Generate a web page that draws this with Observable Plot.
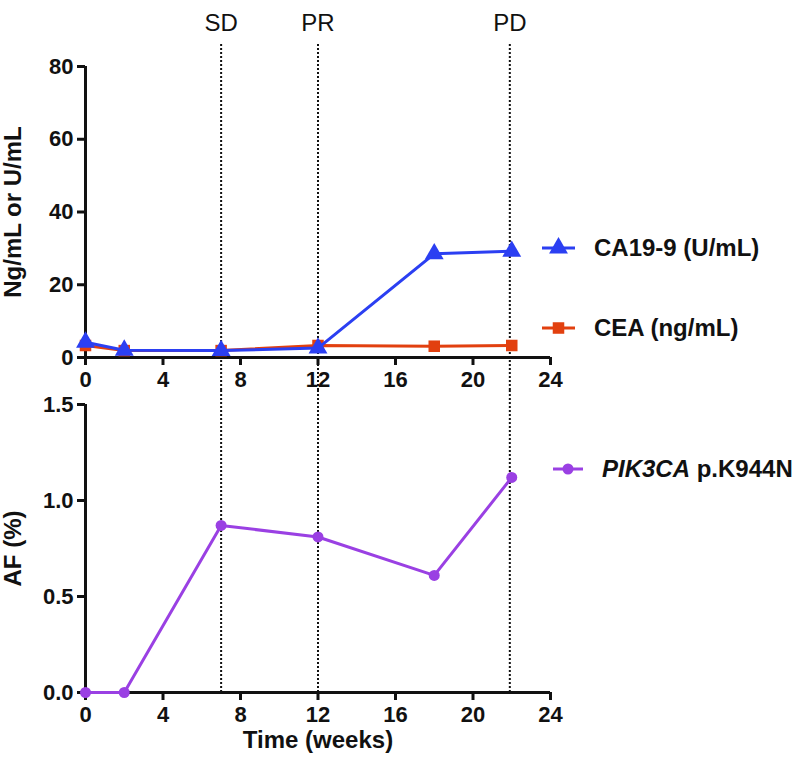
<!DOCTYPE html>
<html><head><meta charset="utf-8">
<script src="https://cdn.jsdelivr.net/npm/d3@7"></script>
<script src="https://cdn.jsdelivr.net/npm/@observablehq/plot@0.6"></script>
<style>
html,body{margin:0;padding:0;background:#fff;}
#wrap{position:relative;width:800px;height:760px;background:#fff;font-family:"Liberation Sans",Arial,sans-serif;overflow:hidden;}
#wrap > svg{position:absolute;left:0;}
.leg{position:absolute;display:flex;align-items:center;font-weight:bold;font-size:24px;color:#111;white-space:nowrap;height:30px;}
.leg svg{display:block;margin-right:19px;}
</style></head><body><div id="wrap"></div>
<script>
// ---- data ----
const weeks = [0, 2, 7, 12, 18, 22];
const ca199 = [4.2, 2.0, 1.9, 2.6, 28.5, 29.2];
const cea = [3.3, 1.9, 1.9, 3.3, 3.1, 3.3];
const pik3ca = [0, 0, 0.87, 0.81, 0.61, 1.12];
const xTicks = [0, 4, 8, 12, 16, 20, 24];
const topYTicks = [0, 20, 40, 60, 80];
const bottomYTicks = [0, 0.5, 1.0, 1.5];
const eventLabels = ["SD", "PR", "PD"];
const eventWeeks = [7, 12, 21.9];
const seriesNames = ["CA19-9 (U/mL)", "CEA (ng/mL)", "PIK3CA p.K944N"];
const seriesColors = ["#2b3ff2", "#e2400f", "#9a40e3"];

const caData = weeks.map((w, i) => ({week: w, value: ca199[i]}));
const ceaData = weeks.map((w, i) => ({week: w, value: cea[i]}));
const pikData = weeks.map((w, i) => ({week: w, value: pik3ca[i]}));
const events = eventWeeks.map((w, i) => ({week: w, label: eventLabels[i]}));

const FONT = "Liberation Sans, Arial, sans-serif";
const wrap = document.getElementById("wrap");

const common = {
  width: 800,
  marginLeft: 85,
  marginRight: 250,
  style: {background: "transparent", fontFamily: FONT, color: "#111"},
  x: {domain: [0, 24]}
};

const axStyle = {tickSize: 8, strokeWidth: 3, fontSize: 22, fontWeight: "bold", label: null, fill: "#111", stroke: "#111"};
const dotted = {stroke: "#111", strokeWidth: 2, strokeDasharray: "2,2"};
const titleStyle = {text: d => d, fontSize: 24, fontWeight: "bold", fill: "#111"};

// ---- top panel ----
const topPlot = Plot.plot({
  ...common,
  height: 395,
  marginTop: 66,
  marginBottom: 38,
  y: {domain: [0, 80]},
  marks: [
    Plot.ruleX(events, {x: "week", ...dotted, insetTop: -22, insetBottom: -33}),
    Plot.text(events, {x: "week", text: "label", frameAnchor: "top", dy: -53, fontSize: 24, fill: "#111"}),
    Plot.axisX({ticks: xTicks, ...axStyle, tickPadding: 6}),
    Plot.axisY({ticks: topYTicks, ...axStyle, tickPadding: 4}),
    Plot.ruleY([0], {stroke: "#111", strokeWidth: 3}),
    Plot.ruleX([0], {stroke: "#111", strokeWidth: 3}),
    Plot.text(["Ng/mL or U/mL"], {...titleStyle, frameAnchor: "left", textAnchor: "middle", rotate: -90, dx: -72}),
    Plot.line(ceaData, {x: "week", y: "value", stroke: seriesColors[1], strokeWidth: 3}),
    Plot.dot(ceaData, {x: "week", y: "value", symbol: "square", r: 6.5, fill: seriesColors[1]}),
    Plot.line(caData, {x: "week", y: "value", stroke: seriesColors[0], strokeWidth: 3}),
    Plot.dot(caData, {x: "week", y: "value", symbol: "triangle", r: 7, fill: seriesColors[0]})
  ]
});
topPlot.style.top = "0px";
wrap.appendChild(topPlot);

// ---- bottom panel ----
const bottomPlot = Plot.plot({
  ...common,
  height: 375,
  marginTop: 19,
  marginBottom: 68,
  y: {domain: [0, 1.5]},
  marks: [
    Plot.ruleX(events, {x: "week", ...dotted, insetTop: -14}),
    Plot.axisX({ticks: xTicks, ...axStyle, tickPadding: 6}),
    Plot.axisY({ticks: bottomYTicks, ...axStyle, tickPadding: 4, tickFormat: d3.format(".1f")}),
    Plot.ruleY([0], {stroke: "#111", strokeWidth: 3}),
    Plot.ruleX([0], {stroke: "#111", strokeWidth: 3}),
    Plot.text(["AF (%)"], {...titleStyle, frameAnchor: "left", textAnchor: "middle", rotate: -90, dx: -72}),
    Plot.text(["Time (weeks)"], {...titleStyle, frameAnchor: "bottom", dy: 55}),
    Plot.line(pikData, {x: "week", y: "value", stroke: seriesColors[2], strokeWidth: 3}),
    Plot.dot(pikData, {x: "week", y: "value", symbol: "circle", r: 5.5, fill: seriesColors[2]})
  ]
});
bottomPlot.style.top = "385px";
wrap.appendChild(bottomPlot);

// ---- legends ----
function legend(name, color, symbolType, r, left, cy, lineW, italicPart) {
  const div = document.createElement("div");
  div.className = "leg";
  div.style.left = left + "px";
  div.style.top = (cy - 15) + "px";
  const svg = d3.create("svg").attr("width", lineW).attr("height", 30);
  svg.append("line").attr("x1", 0).attr("x2", lineW).attr("y1", 15).attr("y2", 15)
    .attr("stroke", color).attr("stroke-width", 3);
  svg.append("path").attr("transform", `translate(${lineW / 2},15)`)
    .attr("d", d3.symbol(symbolType, r * r * Math.PI)()).attr("fill", color);
  div.appendChild(svg.node());
  const span = document.createElement("span");
  if (italicPart) {
    const i = document.createElement("i");
    i.textContent = italicPart;
    span.appendChild(i);
    span.appendChild(document.createTextNode(name.slice(italicPart.length)));
  } else span.textContent = name;
  div.appendChild(span);
  wrap.appendChild(div);
}
legend(seriesNames[0], seriesColors[0], d3.symbolTriangle, 7, 542, 248, 33);
legend(seriesNames[1], seriesColors[1], d3.symbolSquare, 6.5, 542, 328, 33);
legend(seriesNames[2], seriesColors[2], d3.symbolCircle, 5.5, 553, 469, 30, "PIK3CA");
</script></body></html>
